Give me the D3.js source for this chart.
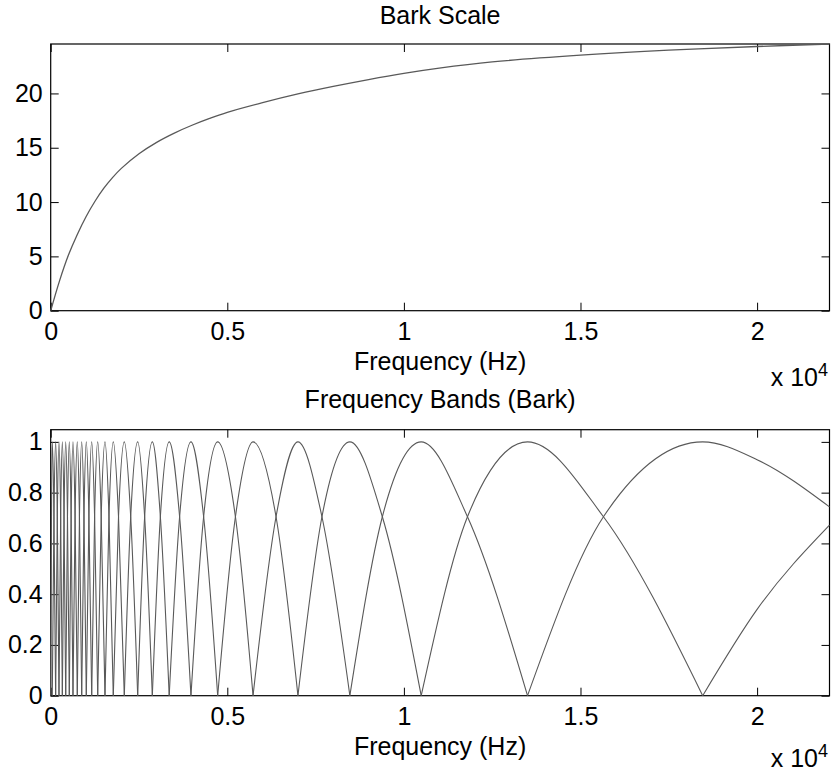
<!DOCTYPE html>
<html>
<head>
<meta charset="utf-8">
<script src="https://cdn.jsdelivr.net/npm/d3@7/dist/d3.min.js"></script>
<style>
body { margin: 0; background: #fff; }
svg text { font-family: "Liberation Sans", Arial, Helvetica, sans-serif; fill: #000; }
</style>
</head>
<body>
<script>
// top panel: bark curve (Hz, Bark)
const barkFreq  = [0, 250, 500, 750, 1000, 1250, 1500, 1750, 2000, 2500, 3000, 3500, 4000, 4500, 5000, 6000, 7000, 8000, 9000, 10000, 11000, 12500, 15000, 17500, 20000, 22050];
const barkValue = [0, 2.75, 5.1, 7.0, 8.65, 10.05, 11.25, 12.25, 13.1, 14.45, 15.5, 16.35, 17.07, 17.7, 18.26, 19.15, 19.95, 20.65, 21.28, 21.85, 22.33, 22.9, 23.52, 23.98, 24.32, 24.54];

// bottom panel: band peaks (Hz), crossing points between neighbours (Hz)
const bandCenters   = [45, 140, 235, 330, 425, 527, 631, 753, 878, 1008, 1161, 1331, 1537, 1772, 2084, 2463, 2877, 3355, 3971, 4728, 5729, 7000, 8470, 10490, 13500, 18460];
const bandCrossings = [22, 92, 187, 282, 377, 475, 578, 690, 814, 942, 1082, 1243, 1430, 1650, 1920, 2265, 2660, 3105, 3650, 4330, 5230, 6380, 7680, 9390, 11800, 15650];
const crossLevel = 0.705;
// the last two bands run off the right edge
const fallTail = [[20000, 0.93], [22050, 0.744]];
const riseTail = [[20000, 0.34], [22050, 0.672]];

const xTicks = [0, 5000, 10000, 15000, 20000];
const barkTicks = [0, 5, 10, 15, 20];
const bandTicks = [0, 0.2, 0.4, 0.6, 0.8, 1];

const W = 831, H = 774;
const L = 50.7, R = 829.5;
const fs = 25;

const svg = d3.select("body").append("svg")
  .attr("width", W).attr("height", H);

const x = d3.scaleLinear().domain([0, 22050]).range([L, R]);
const y1 = d3.scaleLinear().domain([0, 24.55]).range([310.7, 44]);
const y2 = d3.scaleLinear().domain([0, 1.048]).range([695.7, 429.7]);

function drawAxes(y, yTicks, title, titleY, expY) {
  const top = y.range()[1], bot = y.range()[0];
  const g = svg.append("g");

  g.append("g").attr("transform", `translate(0,${bot})`)
    .call(d3.axisBottom(x).tickValues(xTicks).tickSize(-8).tickPadding(12).tickFormat(d => d / 1e4));
  g.append("g").attr("transform", `translate(0,${top})`)
    .call(d3.axisTop(x).tickValues(xTicks).tickSize(-8).tickFormat(""));
  g.append("g").attr("transform", `translate(${L},0)`)
    .call(d3.axisLeft(y).tickValues(yTicks).tickSize(-8).tickPadding(8).tickFormat(d => d));
  g.append("g").attr("transform", `translate(${R},0)`)
    .call(d3.axisRight(y).tickValues(yTicks).tickSize(-8).tickFormat(""));

  g.selectAll(".domain").remove();
  g.selectAll(".tick line").attr("stroke", "#000").attr("stroke-width", 1);
  g.selectAll(".tick text").style("font-size", fs + "px");

  g.append("rect")
    .attr("x", L).attr("y", top)
    .attr("width", R - L).attr("height", bot - top)
    .attr("fill", "none").attr("stroke", "#000").attr("stroke-width", 1.2);

  svg.append("text").attr("x", (L + R) / 2).attr("y", titleY)
    .attr("text-anchor", "middle").style("font-size", fs + "px").text(title);

  svg.append("text").attr("x", (L + R) / 2).attr("y", bot + 59)
    .attr("text-anchor", "middle").style("font-size", fs + "px").text("Frequency (Hz)");

  const ex = svg.append("text").attr("x", 828).attr("y", expY)
    .attr("text-anchor", "end").style("font-size", fs + "px");
  ex.append("tspan").text("x 10");
  ex.append("tspan").attr("dy", -10).style("font-size", "18px").text("4");
}

drawAxes(y1, barkTicks, "Bark Scale", 24, 386);
drawAxes(y2, bandTicks, "Frequency Bands (Bark)", 408, 767);

const lineColor = "#595959";

// bark curve
const barkPts = barkFreq.map((f, i) => [f, barkValue[i]]);
const barkLine = d3.line().x(d => x(d[0])).y(d => y1(d[1])).curve(d3.curveCatmullRom.alpha(0.5));
svg.append("path").attr("d", barkLine(barkPts))
  .attr("fill", "none").attr("stroke", lineColor).attr("stroke-width", 1.3);

// bands
const lobes = [];
const n = bandCenters.length;
for (let i = 0; i < n; i++) {
  const pts = [[i === 0 ? 0 : bandCenters[i - 1], 0], [bandCrossings[i], crossLevel], [bandCenters[i], 1]];
  if (i < n - 1) {
    pts.push([bandCrossings[i + 1], crossLevel], [bandCenters[i + 1], 0]);
  } else {
    fallTail.forEach(p => pts.push(p));
  }
  lobes.push(pts);
}
lobes.push([[bandCenters[n - 1], 0]].concat(riseTail));

const bandLine = d3.line().x(d => x(d[0])).y(d => y2(d[1])).curve(d3.curveMonotoneX);
svg.append("g").selectAll("path")
  .data(lobes)
  .enter()
  .append("path")
  .attr("d", bandLine)
  .attr("fill", "none")
  .attr("stroke", lineColor)
  .attr("stroke-width", 1.1);
</script>
</body>
</html>
